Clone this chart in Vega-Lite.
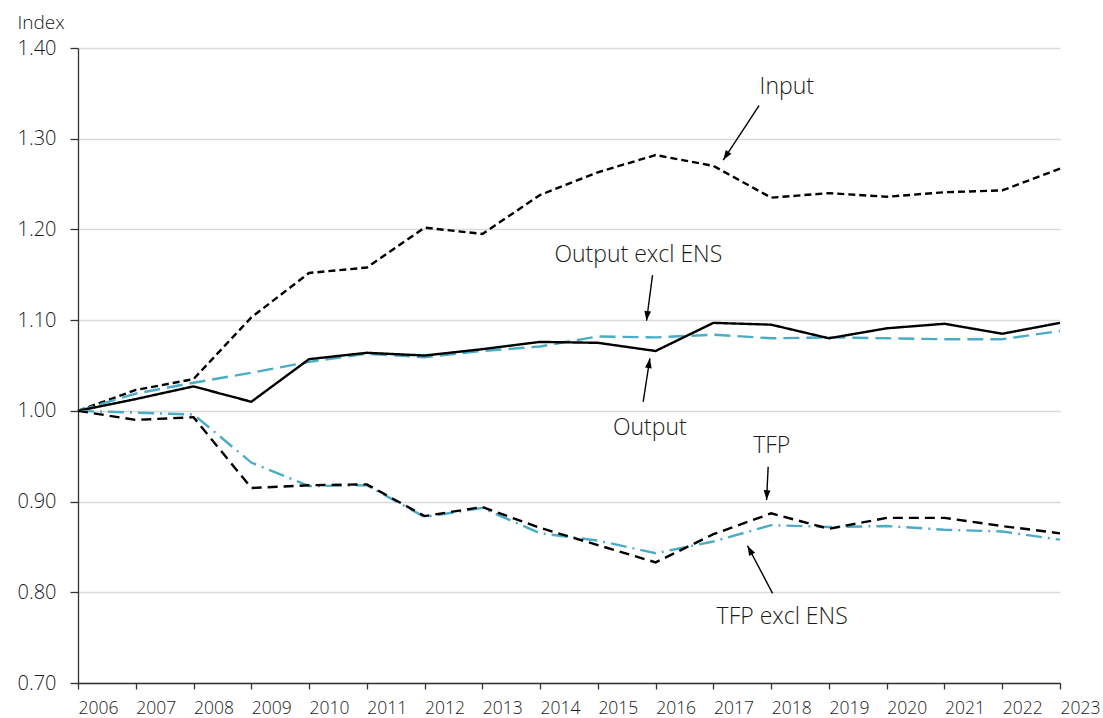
{
  "$schema": "https://vega.github.io/schema/vega-lite/v6.json",
  "autosize": {"type": "none"},
  "width": 982,
  "height": 635,
  "padding": {"left": 78, "top": 48, "right": 43, "bottom": 35},
  "background": "white",
  "config": {
    "view": {"stroke": null},
    "font": "Open Sans",
    "axis": {"labelFont": "Open Sans", "titleFont": "Open Sans", "labelColor": "#1a1a1a", "titleColor": "#1a1a1a", "labelFontWeight": 300}
  },
  "datasets": {
    "series": [
      {"year": 2006, "series": "Input", "value": 1.000},
      {"year": 2007, "series": "Input", "value": 1.023},
      {"year": 2008, "series": "Input", "value": 1.035},
      {"year": 2009, "series": "Input", "value": 1.103},
      {"year": 2010, "series": "Input", "value": 1.152},
      {"year": 2011, "series": "Input", "value": 1.158},
      {"year": 2012, "series": "Input", "value": 1.202},
      {"year": 2013, "series": "Input", "value": 1.195},
      {"year": 2014, "series": "Input", "value": 1.238},
      {"year": 2015, "series": "Input", "value": 1.263},
      {"year": 2016, "series": "Input", "value": 1.282},
      {"year": 2017, "series": "Input", "value": 1.270},
      {"year": 2018, "series": "Input", "value": 1.235},
      {"year": 2019, "series": "Input", "value": 1.240},
      {"year": 2020, "series": "Input", "value": 1.236},
      {"year": 2021, "series": "Input", "value": 1.241},
      {"year": 2022, "series": "Input", "value": 1.243},
      {"year": 2023, "series": "Input", "value": 1.267},
      {"year": 2006, "series": "Output excl ENS", "value": 1.000},
      {"year": 2007, "series": "Output excl ENS", "value": 1.019},
      {"year": 2008, "series": "Output excl ENS", "value": 1.031},
      {"year": 2009, "series": "Output excl ENS", "value": 1.042},
      {"year": 2010, "series": "Output excl ENS", "value": 1.054},
      {"year": 2011, "series": "Output excl ENS", "value": 1.063},
      {"year": 2012, "series": "Output excl ENS", "value": 1.059},
      {"year": 2013, "series": "Output excl ENS", "value": 1.066},
      {"year": 2014, "series": "Output excl ENS", "value": 1.071},
      {"year": 2015, "series": "Output excl ENS", "value": 1.082},
      {"year": 2016, "series": "Output excl ENS", "value": 1.081},
      {"year": 2017, "series": "Output excl ENS", "value": 1.084},
      {"year": 2018, "series": "Output excl ENS", "value": 1.080},
      {"year": 2019, "series": "Output excl ENS", "value": 1.081},
      {"year": 2020, "series": "Output excl ENS", "value": 1.080},
      {"year": 2021, "series": "Output excl ENS", "value": 1.079},
      {"year": 2022, "series": "Output excl ENS", "value": 1.079},
      {"year": 2023, "series": "Output excl ENS", "value": 1.088},
      {"year": 2006, "series": "Output", "value": 1.000},
      {"year": 2007, "series": "Output", "value": 1.013},
      {"year": 2008, "series": "Output", "value": 1.027},
      {"year": 2009, "series": "Output", "value": 1.010},
      {"year": 2010, "series": "Output", "value": 1.057},
      {"year": 2011, "series": "Output", "value": 1.064},
      {"year": 2012, "series": "Output", "value": 1.061},
      {"year": 2013, "series": "Output", "value": 1.068},
      {"year": 2014, "series": "Output", "value": 1.076},
      {"year": 2015, "series": "Output", "value": 1.075},
      {"year": 2016, "series": "Output", "value": 1.066},
      {"year": 2017, "series": "Output", "value": 1.097},
      {"year": 2018, "series": "Output", "value": 1.095},
      {"year": 2019, "series": "Output", "value": 1.080},
      {"year": 2020, "series": "Output", "value": 1.091},
      {"year": 2021, "series": "Output", "value": 1.096},
      {"year": 2022, "series": "Output", "value": 1.085},
      {"year": 2023, "series": "Output", "value": 1.097},
      {"year": 2006, "series": "TFP excl ENS", "value": 1.000},
      {"year": 2007, "series": "TFP excl ENS", "value": 0.998},
      {"year": 2008, "series": "TFP excl ENS", "value": 0.996},
      {"year": 2009, "series": "TFP excl ENS", "value": 0.943},
      {"year": 2010, "series": "TFP excl ENS", "value": 0.917},
      {"year": 2011, "series": "TFP excl ENS", "value": 0.918},
      {"year": 2012, "series": "TFP excl ENS", "value": 0.883},
      {"year": 2013, "series": "TFP excl ENS", "value": 0.893},
      {"year": 2014, "series": "TFP excl ENS", "value": 0.865},
      {"year": 2015, "series": "TFP excl ENS", "value": 0.857},
      {"year": 2016, "series": "TFP excl ENS", "value": 0.843},
      {"year": 2017, "series": "TFP excl ENS", "value": 0.856},
      {"year": 2018, "series": "TFP excl ENS", "value": 0.874},
      {"year": 2019, "series": "TFP excl ENS", "value": 0.872},
      {"year": 2020, "series": "TFP excl ENS", "value": 0.873},
      {"year": 2021, "series": "TFP excl ENS", "value": 0.869},
      {"year": 2022, "series": "TFP excl ENS", "value": 0.867},
      {"year": 2023, "series": "TFP excl ENS", "value": 0.858},
      {"year": 2006, "series": "TFP", "value": 1.000},
      {"year": 2007, "series": "TFP", "value": 0.990},
      {"year": 2008, "series": "TFP", "value": 0.993},
      {"year": 2009, "series": "TFP", "value": 0.915},
      {"year": 2010, "series": "TFP", "value": 0.918},
      {"year": 2011, "series": "TFP", "value": 0.919},
      {"year": 2012, "series": "TFP", "value": 0.884},
      {"year": 2013, "series": "TFP", "value": 0.894},
      {"year": 2014, "series": "TFP", "value": 0.871},
      {"year": 2015, "series": "TFP", "value": 0.852},
      {"year": 2016, "series": "TFP", "value": 0.833},
      {"year": 2017, "series": "TFP", "value": 0.864},
      {"year": 2018, "series": "TFP", "value": 0.887},
      {"year": 2019, "series": "TFP", "value": 0.870},
      {"year": 2020, "series": "TFP", "value": 0.882},
      {"year": 2021, "series": "TFP", "value": 0.882},
      {"year": 2022, "series": "TFP", "value": 0.873},
      {"year": 2023, "series": "TFP", "value": 0.865}
    ],
    "labels": [
      {"label": "Input", "year": 2018.27, "value": 1.357},
      {"label": "Output excl ENS", "year": 2015.70, "value": 1.172},
      {"label": "Output", "year": 2015.90, "value": 0.981},
      {"label": "TFP", "year": 2018.01, "value": 0.961},
      {"label": "TFP excl ENS", "year": 2018.19, "value": 0.773}
    ],
    "arrows": [
      {"label": "Input", "year": 2017.79, "value": 1.3364, "year2": 2017.17, "value2": 1.2765},
      {"label": "Output excl ENS", "year": 2015.946, "value": 1.1497, "year2": 2015.842, "value2": 1.0993},
      {"label": "Output", "year": 2015.784, "value": 1.0100, "year2": 2015.90, "value2": 1.0579},
      {"label": "TFP", "year": 2017.948, "value": 0.9384, "year2": 2017.92, "value2": 0.9017},
      {"label": "TFP excl ENS", "year": 2018.024, "value": 0.7988, "year2": 2017.59, "value2": 0.8513}
    ]
  },
  "encoding": {
    "x": {
      "field": "year", "type": "quantitative",
      "scale": {"domain": [2006, 2023], "nice": false, "zero": false},
      "axis": {
        "title": null, "values": [2006,2007,2008,2009,2010,2011,2012,2013,2014,2015,2016,2017,2018,2019,2020,2021,2022,2023],
        "format": "d", "grid": false, "labelAlign": "left", "labelBaseline": "top", "labelFlush": false, "labelOverlap": false,
        "labelFontSize": 17.5, "labelPadding": 10, "tickSize": 6, "tickColor": "#333333", "domainColor": "#333333", "domainWidth": 1.3, "tickWidth": 1.3
      }
    },
    "y": {
      "field": "value", "type": "quantitative",
      "scale": {"domain": [0.7, 1.4], "nice": false, "zero": false},
      "axis": {
        "title": "Index", "titleAngle": 0, "titleAlign": "left", "titleBaseline": "alphabetic", "titleX": -61, "titleY": -20,
        "titleFontSize": 19, "titleFontWeight": 300,
        "values": [0.7,0.8,0.9,1.0,1.1,1.2,1.3,1.4], "format": ".2f",
        "labelFontSize": 20, "labelPadding": 14, "tickSize": 8, "tickColor": "#333333", "domainColor": "#333333", "domainWidth": 1.3, "tickWidth": 1.3,
        "grid": true, "gridColor": "#d9d9d9", "gridWidth": 1.3
      }
    }
  },
  "layer": [
    {
      "data": {"name": "series"},
      "mark": {"type": "line", "strokeWidth": 2.4, "clip": false},
      "encoding": {
        "detail": {"field": "series"},
        "color": {"field": "series", "type": "nominal", "legend": null,
          "scale": {"domain": ["Input", "Output excl ENS", "Output", "TFP excl ENS", "TFP"], "range": ["#000000", "#4bacc6", "#000000", "#4bacc6", "#000000"]}},
        "strokeDash": {"field": "series", "type": "nominal", "legend": null,
          "scale": {"domain": ["Input", "Output excl ENS", "Output", "TFP excl ENS", "TFP"], "range": [[7, 4], [16, 7], [1, 0], [16, 6, 2, 6], [10, 6]]}}
      }
    },
    {
      "data": {"name": "labels"},
      "mark": {"type": "text", "fontSize": 23, "font": "Open Sans", "fontWeight": 300, "color": "#1a1a1a", "align": "center", "baseline": "middle"},
      "encoding": {"text": {"field": "label"}}
    },
    {
      "data": {"name": "arrows"},
      "mark": {"type": "rule", "strokeWidth": 1.4, "color": "#000000"},
      "encoding": {
        "x2": {"field": "year2"},
        "y2": {"field": "value2"}
      }
    },
    {
      "data": {"name": "arrows"},
      "transform": [{"filter": "datum.label == 'Input'"}],
      "mark": {"type": "point", "filled": true, "color": "#000000", "opacity": 1, "size": 150, "shape": "M0,0 L-0.55,1.6 L0.55,1.6 Z", "angle": 213},
      "encoding": {"x": {"field": "year2", "type": "quantitative"}, "y": {"field": "value2", "type": "quantitative"}}
    },
    {
      "data": {"name": "arrows"},
      "transform": [{"filter": "datum.label == 'Output excl ENS'"}],
      "mark": {"type": "point", "filled": true, "color": "#000000", "opacity": 1, "size": 150, "shape": "M0,0 L-0.55,1.6 L0.55,1.6 Z", "angle": 187},
      "encoding": {"x": {"field": "year2", "type": "quantitative"}, "y": {"field": "value2", "type": "quantitative"}}
    },
    {
      "data": {"name": "arrows"},
      "transform": [{"filter": "datum.label == 'Output'"}],
      "mark": {"type": "point", "filled": true, "color": "#000000", "opacity": 1, "size": 150, "shape": "M0,0 L-0.55,1.6 L0.55,1.6 Z", "angle": 9},
      "encoding": {"x": {"field": "year2", "type": "quantitative"}, "y": {"field": "value2", "type": "quantitative"}}
    },
    {
      "data": {"name": "arrows"},
      "transform": [{"filter": "datum.label == 'TFP'"}],
      "mark": {"type": "point", "filled": true, "color": "#000000", "opacity": 1, "size": 150, "shape": "M0,0 L-0.55,1.6 L0.55,1.6 Z", "angle": 183},
      "encoding": {"x": {"field": "year2", "type": "quantitative"}, "y": {"field": "value2", "type": "quantitative"}}
    },
    {
      "data": {"name": "arrows"},
      "transform": [{"filter": "datum.label == 'TFP excl ENS'"}],
      "mark": {"type": "point", "filled": true, "color": "#000000", "opacity": 1, "size": 150, "shape": "M0,0 L-0.55,1.6 L0.55,1.6 Z", "angle": 332},
      "encoding": {"x": {"field": "year2", "type": "quantitative"}, "y": {"field": "value2", "type": "quantitative"}}
    }
  ]
}
